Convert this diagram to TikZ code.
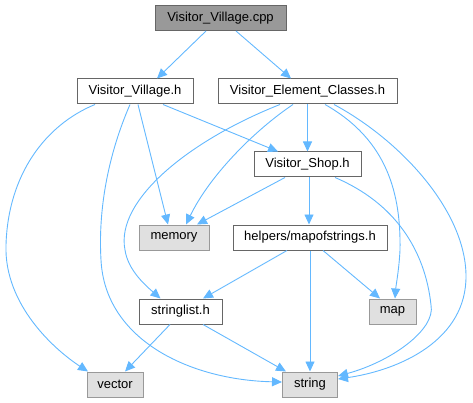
\documentclass[tikz,border=0pt]{standalone}
\usepackage{fontspec}
\setmainfont{Liberation Sans}
\usetikzlibrary{arrows.meta,calc}
\definecolor{edgeblue}{HTML}{63B8FF}
\definecolor{rootfill}{HTML}{999999}
\definecolor{boxborder}{HTML}{666666}
\definecolor{extfill}{HTML}{E0E0E0}
\definecolor{extborder}{HTML}{999999}
\begin{document}
\begin{tikzpicture}[x=1pt,y=-1pt,
  basebox/.style={rectangle,inner sep=0pt,minimum height=25pt,line width=1pt,
    font=\fontsize{13}{15}\selectfont},
  rootbox/.style={basebox,fill=rootfill,draw=boxborder},
  filebox/.style={basebox,fill=white,draw=boxborder},
  extbox/.style={basebox,fill=extfill,draw=extborder},
  dep/.style={draw=edgeblue,line width=0.9pt,-{Triangle[length=10pt,width=9pt,fill=edgeblue]}}]
\useasboundingbox (0,0) rectangle (473,403);
\node[rootbox,minimum width=131pt] (cpp) at (220.5,18) {Visitor\_Village.cpp};
\node[filebox,minimum width=116pt] (vvh) at (135,91.5) {Visitor\_Village.h};
\node[filebox,minimum width=179pt] (vec) at (307.5,91.5) {Visitor\_Element\_Classes.h};
\node[filebox,minimum width=107pt] (vsh) at (307.5,164.5) {Visitor\_Shop.h};
\node[extbox,minimum width=70pt] (mem) at (174,237.5) {memory};
\node[filebox,minimum width=154pt] (mos) at (310,237.5) {helpers/mapofstrings.h};
\node[filebox,minimum width=83pt] (sl) at (180.5,311.5) {stringlist.h};
\node[extbox,minimum width=47pt] (map) at (392.5,311.5) {map};
\node[extbox,minimum width=56pt] (vecr) at (115,384.5) {vector};
\node[extbox,minimum width=55pt] (str) at (310,384.5) {string};

% from Visitor_Village.cpp
\draw[dep] ([xshift=-14.5pt]cpp.south) -- ([xshift=22pt]vvh.north);
\draw[dep] ([xshift=15.5pt]cpp.south) -- ([xshift=-16.5pt]vec.north);

% from Visitor_Village.h
\draw[dep] ([xshift=-40pt]vvh.south) .. controls (45,125) and (8,175) .. (6,245)
  .. controls (4,305) and (55,350) .. ([xshift=-27pt]vecr.north);
\draw[dep] ([xshift=3pt]vvh.south) -- ([xshift=-6pt]mem.north);
\draw[dep] ([xshift=-5pt]vvh.south) .. controls (108,155) and (98,210) .. (101,260)
  .. controls (105,340) and (190,380) .. ([yshift=2.5pt]str.west);
\draw[dep] ([xshift=28pt]vvh.south) -- ([xshift=-29.5pt]vsh.north);

% from Visitor_Element_Classes.h
\draw[dep] ([xshift=-27.5pt]vec.south) .. controls (190,140) and (115,200) .. (125,250)
  .. controls (128,270) and (145,285) .. ([xshift=-20pt]sl.north);
\draw[dep] ([xshift=-14.5pt]vec.south) .. controls (255,130) and (210,175) .. ([xshift=12pt]mem.north);
\draw[dep] (vec.south) -- (vsh.north);
\draw[dep] ([xshift=17.5pt]vec.south) .. controls (388,140) and (401,195) .. (400,250)
  .. controls (399,270) and (396,285) .. ([xshift=2.5pt]map.north);
\draw[dep] ([xshift=26.5pt]vec.south) .. controls (400,140) and (465,210) .. (466,275)
  .. controls (467,340) and (400,370) .. ([yshift=5.5pt]str.east);

% from Visitor_Shop.h
\draw[dep] ([xshift=-22.5pt]vsh.south) -- ([xshift=23pt]mem.north);
\draw[dep] ([xshift=1.5pt]vsh.south) -- ([xshift=-1pt]mos.north);
\draw[dep] ([xshift=27.5pt]vsh.south) .. controls (395,203) and (425,250) .. (431,305)
  .. controls (436,330) and (390,362) .. ([yshift=8.5pt]str.east);

% from helpers/mapofstrings.h
\draw[dep] ([xshift=-23pt]mos.south) -- ([xshift=22.5pt]sl.north);
\draw[dep] (mos.south) -- (str.north);
\draw[dep] ([xshift=13pt]mos.south) -- ([xshift=-12.5pt]map.north);

% from stringlist.h
\draw[dep] ([xshift=-10.5pt]sl.south) -- ([xshift=10pt]vecr.north);
\draw[dep] ([xshift=22.5pt]sl.south) -- ([xshift=-24pt]str.north);
\end{tikzpicture}
\end{document}
